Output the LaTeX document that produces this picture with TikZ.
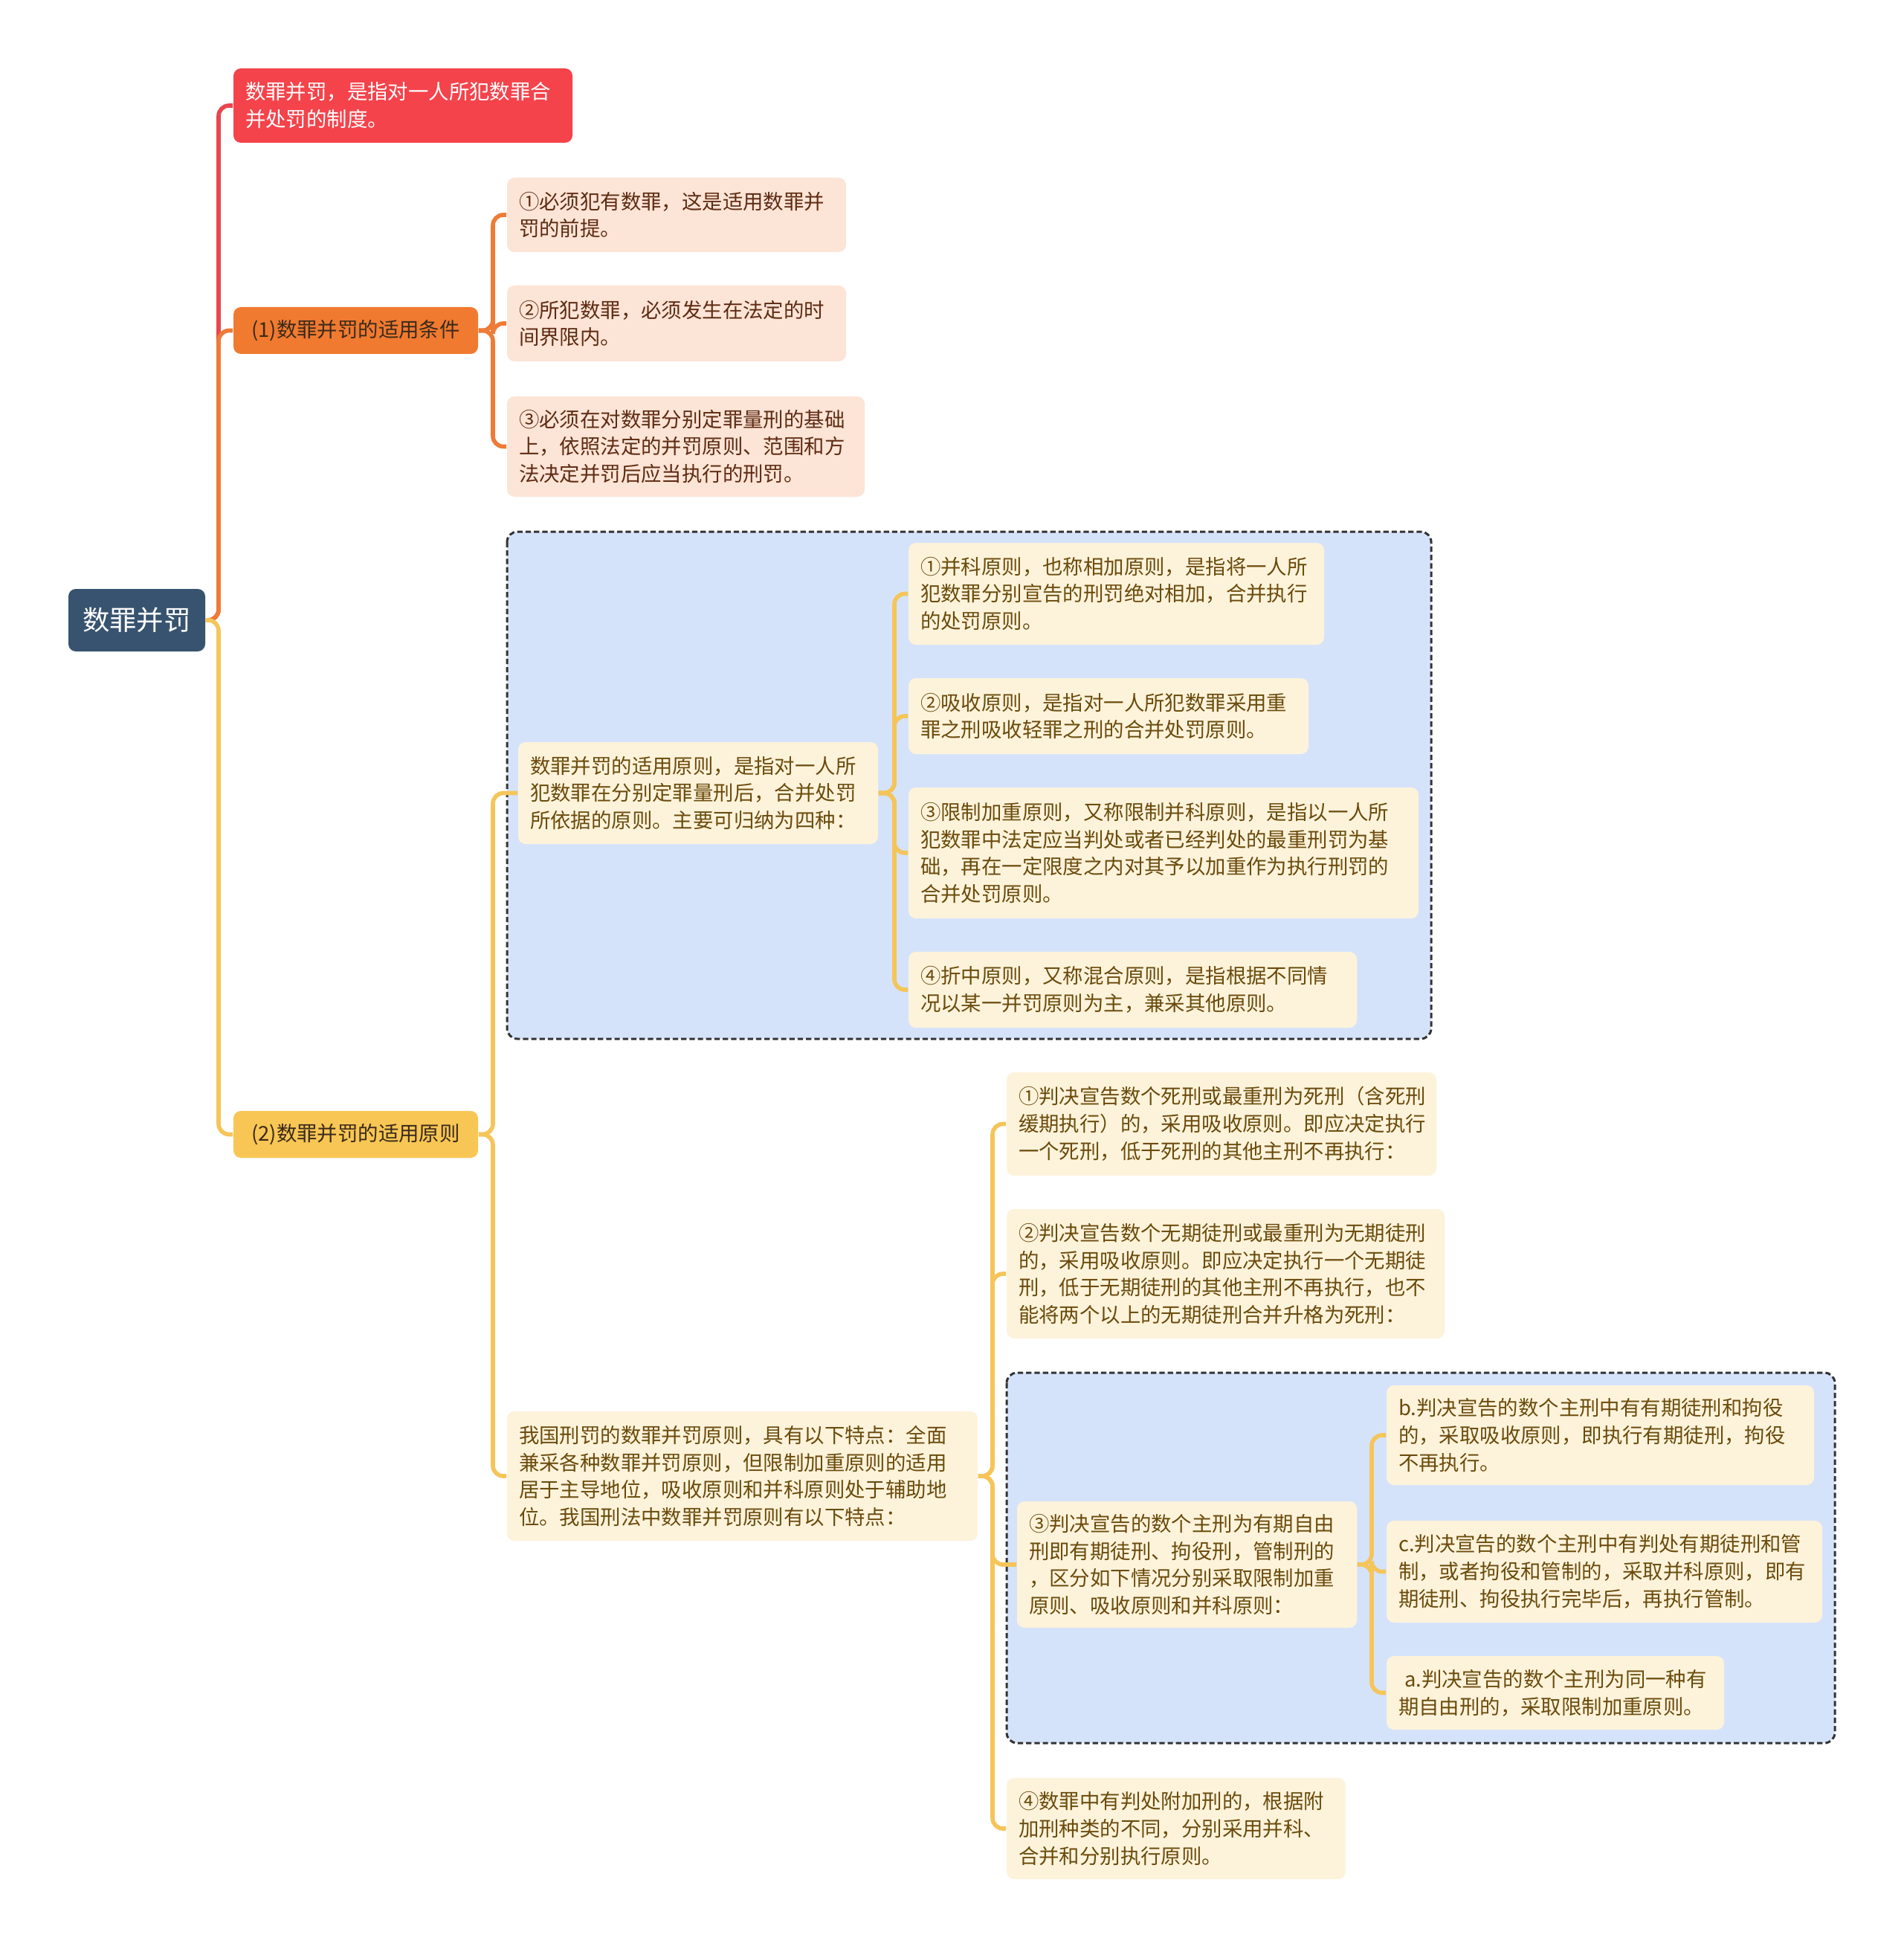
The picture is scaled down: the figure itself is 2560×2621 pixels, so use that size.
\documentclass[tikz,border=0pt]{standalone}
\usepackage{fontspec}
\setmainfont{Noto Sans CJK SC}
\definecolor{rootc}{HTML}{37536F}
\definecolor{redc}{HTML}{F5434B}
\definecolor{orangec}{HTML}{F07A30}
\definecolor{yellowc}{HTML}{F8C654}
\definecolor{peachc}{HTML}{FCE4D6}
\definecolor{creamc}{HTML}{FDF3DB}
\definecolor{groupc}{HTML}{D5E3FA}
\definecolor{redl}{HTML}{E8464E}
\definecolor{orangel}{HTML}{EE7B36}
\definecolor{yellowl}{HTML}{F5C55A}
\definecolor{peacht}{HTML}{5E2B12}
\definecolor{creamt}{HTML}{6B4B0C}
\definecolor{brt}{HTML}{3A2A1A}
\newcommand{\mmnode}[7]{%
  \pgfmathsetmacro{\mmw}{(#5-#3)*0.25}%
  \pgfmathsetmacro{\mmh}{(#6-#4)*0.25}%
  \pgfmathsetmacro{\mmtw}{(#5-#3)*0.25-8}%
  \node[#2, minimum width=\mmw pt, minimum height=\mmh pt, text width=\mmtw pt] (#1) at ({(#3+#5)/2},{(#4+#6)/2}) {#7};}
\begin{document}
\begin{tikzpicture}[x=0.25pt,y=-0.25pt,
  boxbase/.style={rectangle, rounded corners=2.5pt, inner sep=0pt, font=\fontsize{6.85}{9.2}\selectfont},
  rootbox/.style={boxbase, fill=rootc, text=white, align=center, font=\fontsize{9.1}{11}\selectfont},
  redbox/.style={boxbase, fill=redc, text=white, align=left},
  orangebox/.style={boxbase, fill=orangec, text=brt, align=center},
  yellowbox/.style={boxbase, fill=yellowc, text=brt, align=center},
  peachbox/.style={boxbase, fill=peachc, text=peacht, align=left},
  creambox/.style={boxbase, fill=creamc, text=creamt, align=left},
  groupbox/.style={draw=black!80, fill=groupc, line width=0.75pt, dash pattern=on 1.8pt off 1pt, rounded corners=3.5pt},
  conn/.style={line width=1.4pt, rounded corners=3.5pt},
  lred/.style={conn, draw=redl},
  lorange/.style={conn, draw=orangel},
  lyellow/.style={conn, draw=yellowl}]
\useasboundingbox (0,0) rectangle (2560,2621);
\fill[white] (0,0) rectangle (2560,2621);

% dashed groups
\draw[groupbox] (682,715) rectangle (1925,1397);
\draw[groupbox] (1354,1846) rectangle (2468,2344);

% nodes
\mmnode{root}{rootbox}{92}{792}{276}{876}{数罪并罚}
\mmnode{red}{redbox}{314}{92}{770}{192}{数罪并罚，是指对一人所犯数罪合\\并处罚的制度。}
\mmnode{brA}{orangebox}{314}{413}{643}{476}{(1)数罪并罚的适用条件}
\mmnode{cA}{peachbox}{682}{239}{1138}{339}{①必须犯有数罪，这是适用数罪并\\罚的前提。}
\mmnode{cB}{peachbox}{682}{384}{1138}{486}{②所犯数罪，必须发生在法定的时\\间界限内。}
\mmnode{cC}{peachbox}{682}{533}{1163}{668}{③必须在对数罪分别定罪量刑的基础\\上，依照法定的并罚原则、范围和方\\法决定并罚后应当执行的刑罚。}
\mmnode{brB}{yellowbox}{314}{1494}{643}{1557}{(2)数罪并罚的适用原则}
\mmnode{sA}{creambox}{697}{998}{1181}{1135}{数罪并罚的适用原则，是指对一人所\\犯数罪在分别定罪量刑后，合并处罚\\所依据的原则。主要可归纳为四种：}
\mmnode{pA}{creambox}{1222}{730}{1781}{867}{①并科原则，也称相加原则，是指将一人所\\犯数罪分别宣告的刑罚绝对相加，合并执行\\的处罚原则。}
\mmnode{pB}{creambox}{1222}{912}{1760}{1014}{②吸收原则，是指对一人所犯数罪采用重\\罪之刑吸收轻罪之刑的合并处罚原则。}
\mmnode{pC}{creambox}{1222}{1059}{1908}{1235}{③限制加重原则，又称限制并科原则，是指以一人所\\犯数罪中法定应当判处或者已经判处的最重刑罚为基\\础，再在一定限度之内对其予以加重作为执行刑罚的\\合并处罚原则。}
\mmnode{pD}{creambox}{1222}{1280}{1825}{1382}{④折中原则，又称混合原则，是指根据不同情\\况以某一并罚原则为主，兼采其他原则。}
\mmnode{sB}{creambox}{682}{1898}{1315}{2072}{我国刑罚的数罪并罚原则，具有以下特点：全面\\兼采各种数罪并罚原则，但限制加重原则的适用\\居于主导地位，吸收原则和并科原则处于辅助地\\位。我国刑法中数罪并罚原则有以下特点：}
\mmnode{qA}{creambox}{1354}{1442}{1932}{1581}{①判决宣告数个死刑或最重刑为死刑（含死刑\\缓期执行）的，采用吸收原则。即应决定执行\\一个死刑，低于死刑的其他主刑不再执行：}
\mmnode{qB}{creambox}{1354}{1626}{1943}{1800}{②判决宣告数个无期徒刑或最重刑为无期徒刑\\的，采用吸收原则。即应决定执行一个无期徒\\刑，低于无期徒刑的其他主刑不再执行，也不\\能将两个以上的无期徒刑合并升格为死刑：}
\mmnode{qC}{creambox}{1368}{2019}{1825}{2189}{③判决宣告的数个主刑为有期自由\\刑即有期徒刑、拘役刑，管制刑的\\，区分如下情况分别采取限制加重\\原则、吸收原则和并科原则：}
\mmnode{rB}{creambox}{1865}{1863}{2440}{1997}{b.判决宣告的数个主刑中有有期徒刑和拘役\\的，采取吸收原则，即执行有期徒刑，拘役\\不再执行。}
\mmnode{rC}{creambox}{1865}{2045}{2451}{2182}{c.判决宣告的数个主刑中有判处有期徒刑和管\\制，或者拘役和管制的，采取并科原则，即有\\期徒刑、拘役执行完毕后，再执行管制。}
\mmnode{rA}{creambox}{1865}{2227}{2319}{2326}{\hspace*{2pt}a.判决宣告的数个主刑为同一种有\\期自由刑的，采取限制加重原则。}
\mmnode{qD}{creambox}{1354}{2391}{1810}{2527}{④数罪中有判处附加刑的，根据附\\加刑种类的不同，分别采用并科、\\合并和分别执行原则。}

% bus coordinates
\coordinate (bus0) at (294,0);
\coordinate (busA) at (663,0);
\coordinate (busB) at (663,0);
\coordinate (busS) at (1203,0);
\coordinate (busQ) at (1335,0);
\coordinate (busR) at (1845,0);

% connectors from root
\draw[lred] (root.east) -- (root.east -| bus0) |- (red.west);
\draw[lorange] (root.east) -- (root.east -| bus0) |- (brA.west);
\draw[lyellow] (root.east) -- (root.east -| bus0) |- (brB.west);

% branch 1 children
\foreach \t in {cA,cB,cC}
  \draw[lorange] (brA.east) -- (brA.east -| busA) |- (\t.west);

% branch 2 children
\foreach \t in {sA,sB}
  \draw[lyellow] (brB.east) -- (brB.east -| busB) |- (\t.west);

\foreach \t in {pA,pB,pC,pD}
  \draw[lyellow] (sA.east) -- (sA.east -| busS) |- (\t.west);

\foreach \t in {qA,qB,qC,qD}
  \draw[lyellow] (sB.east) -- (sB.east -| busQ) |- (\t.west);

\foreach \t in {rB,rC,rA}
  \draw[lyellow] (qC.east) -- (qC.east -| busR) |- (\t.west);
\end{tikzpicture}
\end{document}
